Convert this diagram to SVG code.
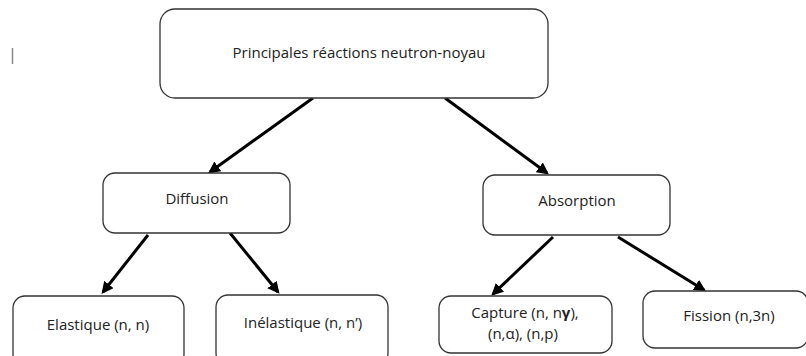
<svg xmlns="http://www.w3.org/2000/svg" width="806" height="356" viewBox="0 0 806 356">
<defs>
<style>
.box{fill:#fff;stroke:#333;stroke-width:1.3}
.t{font-family:"Open Sans","Liberation Sans",Arial,sans-serif;font-size:15px;fill:#222;text-anchor:middle;dominant-baseline:central}
.c{stroke:#000;stroke-width:3;fill:none;marker-end:url(#ah)}
</style>
<marker id="ah" viewBox="0 0 10 10" refX="8" refY="5" markerWidth="4" markerHeight="4" orient="auto" markerUnits="strokeWidth">
<path d="M0,0 L10,5 L0,10 z" fill="#000"/>
</marker>
</defs>
<rect width="806" height="356" fill="#fff"/>
<line x1="12.5" y1="48" x2="12.5" y2="64" stroke="#888" stroke-width="1.5"/>
<g id="connectors">
<line class="c" x1="313" y1="98" x2="210" y2="172"/>
<line class="c" x1="445" y1="98" x2="547" y2="173"/>
<line class="c" x1="148" y1="235" x2="103" y2="292"/>
<line class="c" x1="230" y1="233" x2="278" y2="292"/>
<line class="c" x1="553" y1="237" x2="493" y2="294"/>
<line class="c" x1="618" y1="237" x2="704" y2="290"/>
</g>
<g id="root">
<rect class="box" x="160" y="9" width="388" height="89" rx="15"/>
<text class="t" x="359" y="52">Principales réactions neutron-noyau</text>
</g>
<g id="diffusion">
<rect class="box" x="103" y="173" width="187" height="60" rx="12"/>
<text class="t" x="197" y="198">Diffusion</text>
</g>
<g id="absorption">
<rect class="box" x="483" y="175" width="187" height="60" rx="12"/>
<text class="t" x="577" y="200">Absorption</text>
</g>
<g id="elastique">
<rect class="box" x="13" y="296" width="171" height="70" rx="12"/>
<text class="t" x="98" y="324">Elastique (n, n)</text>
</g>
<g id="inelastique">
<rect class="box" x="216" y="295" width="172" height="70" rx="12"/>
<text class="t" x="303" y="322">Inélastique (n, n’)</text>
</g>
<g id="capture">
<rect class="box" x="439" y="296" width="173" height="57" rx="12"/>
<text class="t" x="525" y="312">Capture (n, n<tspan font-weight="bold">γ</tspan>),</text>
<text class="t" x="523" y="333">(n,α), (n,p)</text>
</g>
<g id="fission">
<rect class="box" x="643" y="291" width="165" height="57" rx="12"/>
<text class="t" x="729" y="315">Fission (n,3n)</text>
</g>
</svg>
